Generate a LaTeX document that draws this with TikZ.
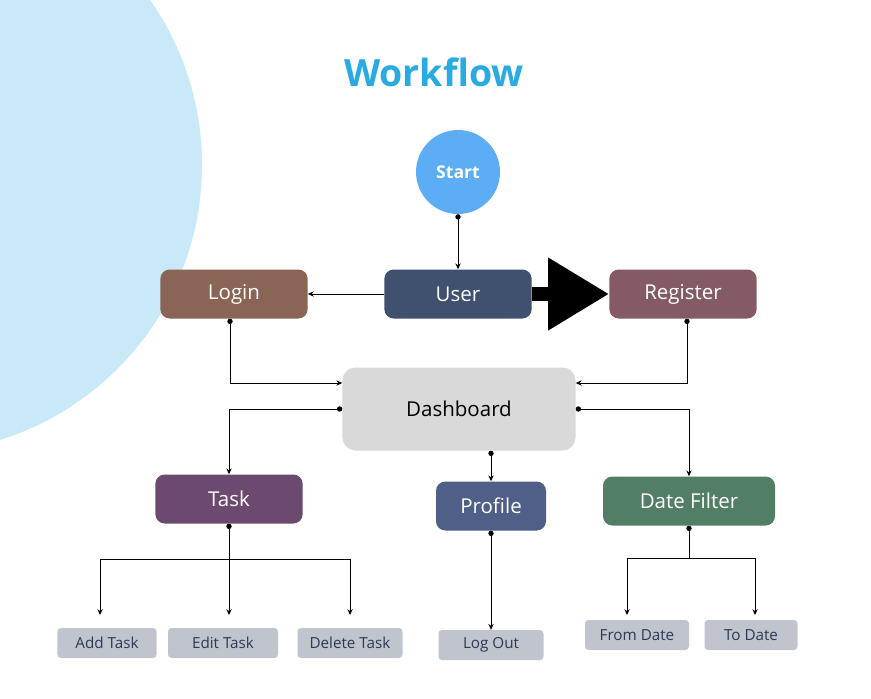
\documentclass[tikz,border=0pt]{standalone}
\usepackage{fontspec}
\setmainfont{Open Sans}
\usetikzlibrary{arrows.meta,calc}
\definecolor{bgblue}{HTML}{C9E9F8}
\definecolor{titleblue}{HTML}{29ABE2}
\definecolor{startblue}{HTML}{5DADF5}
\definecolor{usercol}{HTML}{40506F}
\definecolor{logincol}{HTML}{8A6455}
\definecolor{regcol}{HTML}{845B64}
\definecolor{dashcol}{HTML}{D9D9D9}
\definecolor{taskcol}{HTML}{6C4A6F}
\definecolor{profcol}{HTML}{505F87}
\definecolor{datecol}{HTML}{527E66}
\definecolor{leafcol}{HTML}{C0C4CD}
\definecolor{leaftext}{HTML}{2C3A55}
\begin{document}
\begin{tikzpicture}[>=stealth,x=0.03cm,y=-0.03cm,
  box/.style={rounded corners=8pt,inner sep=0pt,text=white,minimum width=4.42cm,minimum height=1.47cm,font=\fontsize{17.5}{20}\selectfont},
  leaf/.style={rounded corners=3pt,inner sep=0pt,fill=leafcol,text=leaftext,minimum height=0.9cm,font=\fontsize{13}{15}\selectfont},
  line/.style={line width=0.75pt},
  arr/.style={line,-{Stealth[length=5pt,width=4.5pt]}},
  dotarr/.style={line,{Circle[length=4.5pt]}-{Stealth[length=5pt,width=4.5pt]}}]
\useasboundingbox (0,0) rectangle (871,698);
% background disc
\begin{scope}
\clip (0,0) rectangle (871,698);
\fill[bgblue] (-86,165) circle (288);
\end{scope}
\node[text=titleblue,font=\bfseries\fontsize{32}{36}\selectfont] (title) at (434,72) {Workflow};
\node[circle,fill=startblue,text=white,minimum size=2.52cm,font=\bfseries\fontsize{15}{17}\selectfont] (start) at (458,172) {Start};
\node[box,fill=usercol] (user) at (458,294) {User};
\node[box,fill=logincol] (login) at (234,294) {Login};
\node[box,fill=regcol] (register) at (683,294) {Register};
\node[box,fill=dashcol,text=black,minimum width=6.99cm,minimum height=2.49cm,rounded corners=11pt] (dash) at (459,409) {Dashboard};
\node[box,fill=taskcol] (task) at (229,499) {Task};
\node[box,fill=profcol,minimum width=3.3cm] (profile) at (491,506) {Profile};
\node[box,fill=datecol,minimum width=5.16cm] (datef) at (689,501) {Date Filter};
\node[leaf,minimum width=2.97cm] (add) at (107,643) {Add Task};
\node[leaf,minimum width=3.3cm] (edit) at (223,643) {Edit Task};
\node[leaf,minimum width=3.15cm] (delete) at (350,643) {Delete Task};
\node[leaf,minimum width=3.15cm] (logout) at (491,645) {Log Out};
\node[leaf,minimum width=3.12cm] (from) at (637,635) {From Date};
\node[leaf,minimum width=2.79cm] (to) at (751,635) {To Date};
% connectors
\draw[dotarr] (start.south) -- (user.north);
\draw[arr] (user.west) -- (login.east);
\draw[line width=0.42cm,-{Triangle[length=1.83cm,width=2.07cm]}] (user.east) -- (register.west);
\draw[dotarr] ([xshift=-0.12cm]login.south) |- ($(dash.west)+(0,-26)$);
\draw[dotarr] ([xshift=0.12cm]register.south) |- ($(dash.east)+(0,-26)$);
\draw[dotarr] (dash.west) -| (task.north);
\draw[dotarr] (dash.east) -| (datef.north);
\draw[dotarr] (dash.south-|profile.north) -- (profile.north);
\draw[dotarr] (profile.south) -- (logout.north);
\coordinate (tb) at (229,559);
\coordinate (t1) at (100,615);
\coordinate (t3) at (350,615);
\draw[dotarr] (task.south) -- (task.south|-t1);
\foreach \t in {t1,t3} \draw[arr] (tb) -| (\t);
\coordinate (db) at (689,558);
\coordinate (d1) at (627,615);
\coordinate (d2) at (755,615);
\draw[line,{Circle[length=4.5pt]}-] (datef.south) -- (db);
\foreach \t in {d1,d2} \draw[arr] (db) -| (\t);
\end{tikzpicture}
\end{document}
